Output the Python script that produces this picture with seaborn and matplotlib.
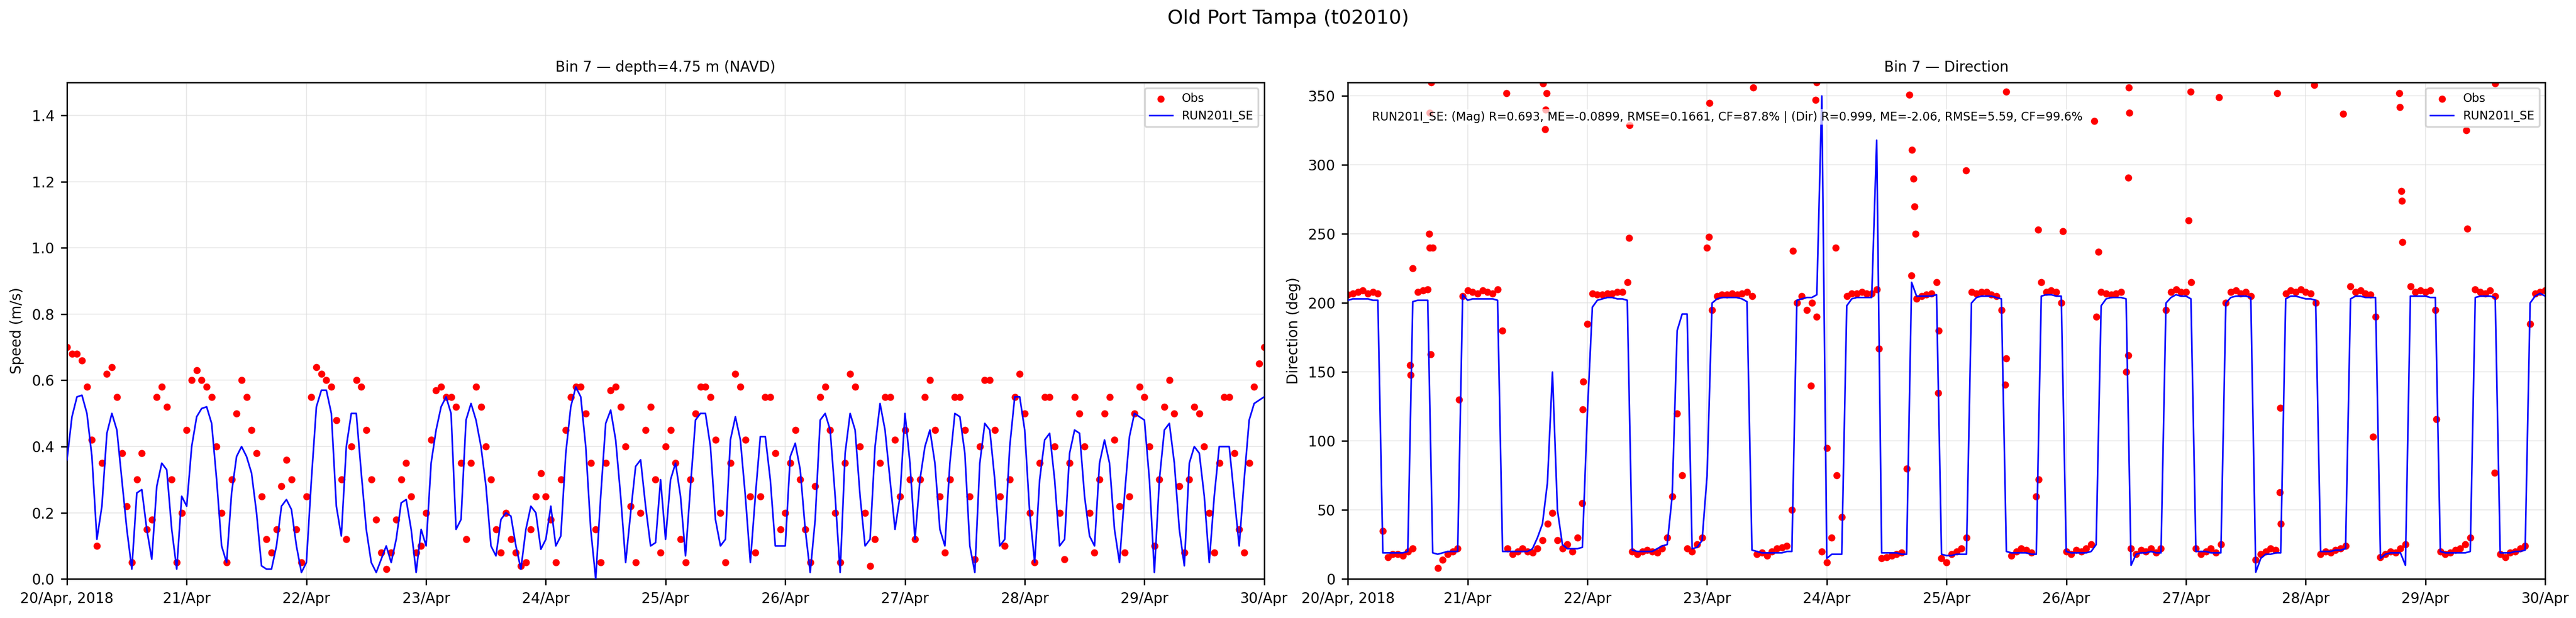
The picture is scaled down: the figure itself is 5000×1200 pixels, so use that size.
import numpy as np
import pandas as pd
import matplotlib
matplotlib.use("Agg")
import matplotlib.pyplot as plt
import seaborn as sns

# hourly values, 20 Apr 00:00 -> 30 Apr 00:00 (241 samples)
speed_obs = [
    0.70, 0.68, 0.68, 0.66, 0.58, 0.42, 0.10, 0.35, 0.62, 0.64, 0.55, 0.38, 0.22, 0.05, 0.30, 0.38, 0.15, 0.18, 0.55, 0.58, 0.52, 0.30, 0.05, 0.20,
    0.45, 0.60, 0.63, 0.60, 0.58, 0.55, 0.40, 0.20, 0.05, 0.30, 0.50, 0.60, 0.55, 0.45, 0.38, 0.25, 0.12, 0.08, 0.15, 0.28, 0.36, 0.30, 0.15, 0.05,
    0.25, 0.55, 0.64, 0.62, 0.60, 0.58, 0.48, 0.30, 0.12, 0.40, 0.60, 0.58, 0.45, 0.30, 0.18, 0.08, 0.03, 0.08, 0.18, 0.30, 0.35, 0.25, 0.08, 0.10,
    0.20, 0.42, 0.57, 0.58, 0.55, 0.55, 0.52, 0.35, 0.12, 0.35, 0.58, 0.52, 0.40, 0.30, 0.15, 0.08, 0.20, 0.12, 0.08, 0.04, 0.05, 0.15, 0.25, 0.32,
    0.25, 0.18, 0.05, 0.30, 0.45, 0.55, 0.58, 0.58, 0.50, 0.35, 0.15, 0.05, 0.35, 0.57, 0.58, 0.52, 0.40, 0.22, 0.05, 0.20, 0.45, 0.52, 0.30, 0.08,
    0.40, 0.45, 0.35, 0.12, 0.05, 0.30, 0.50, 0.58, 0.58, 0.55, 0.42, 0.20, 0.05, 0.35, 0.62, 0.58, 0.42, 0.25, 0.08, 0.25, 0.55, 0.55, 0.38, 0.15,
    0.20, 0.35, 0.45, 0.30, 0.15, 0.05, 0.28, 0.55, 0.58, 0.45, 0.20, 0.05, 0.35, 0.62, 0.58, 0.40, 0.20, 0.04, 0.12, 0.35, 0.55, 0.55, 0.42, 0.25,
    0.45, 0.30, 0.12, 0.30, 0.55, 0.60, 0.45, 0.25, 0.08, 0.30, 0.55, 0.55, 0.45, 0.25, 0.06, 0.40, 0.60, 0.60, 0.45, 0.25, 0.10, 0.30, 0.55, 0.62,
    0.50, 0.20, 0.05, 0.35, 0.55, 0.55, 0.40, 0.20, 0.06, 0.35, 0.55, 0.50, 0.40, 0.20, 0.08, 0.30, 0.50, 0.55, 0.42, 0.22, 0.08, 0.25, 0.50, 0.58,
    0.55, 0.40, 0.10, 0.30, 0.52, 0.60, 0.50, 0.28, 0.08, 0.30, 0.52, 0.50, 0.40, 0.20, 0.08, 0.35, 0.55, 0.55, 0.38, 0.15, 0.08, 0.35, 0.58, 0.65,
    0.70,
]
speed_mod = [
    0.36, 0.49, 0.55, 0.555, 0.50, 0.37, 0.12, 0.22, 0.44, 0.50, 0.45, 0.30, 0.15, 0.03, 0.26, 0.27, 0.15, 0.06, 0.28, 0.35, 0.33, 0.15, 0.03, 0.25,
    0.22, 0.40, 0.49, 0.515, 0.52, 0.47, 0.30, 0.10, 0.05, 0.26, 0.37, 0.40, 0.37, 0.32, 0.20, 0.04, 0.03, 0.03, 0.10, 0.22, 0.24, 0.21, 0.10, 0.02,
    0.05, 0.30, 0.52, 0.57, 0.57, 0.50, 0.22, 0.13, 0.40, 0.50, 0.50, 0.32, 0.15, 0.05, 0.02, 0.06, 0.10, 0.05, 0.12, 0.23, 0.24, 0.15, 0.02, 0.15,
    0.10, 0.35, 0.45, 0.52, 0.55, 0.50, 0.15, 0.18, 0.48, 0.53, 0.48, 0.40, 0.28, 0.10, 0.07, 0.18, 0.20, 0.19, 0.10, 0.03, 0.15, 0.22, 0.20, 0.09,
    0.12, 0.22, 0.10, 0.13, 0.38, 0.52, 0.58, 0.55, 0.40, 0.15, 0.00, 0.25, 0.47, 0.51, 0.42, 0.25, 0.05, 0.20, 0.34, 0.36, 0.22, 0.10, 0.11, 0.30,
    0.12, 0.30, 0.35, 0.25, 0.07, 0.28, 0.48, 0.50, 0.50, 0.40, 0.18, 0.10, 0.12, 0.42, 0.49, 0.42, 0.25, 0.05, 0.25, 0.43, 0.43, 0.30, 0.10, 0.10,
    0.10, 0.37, 0.41, 0.33, 0.15, 0.02, 0.18, 0.48, 0.50, 0.45, 0.25, 0.02, 0.38, 0.50, 0.45, 0.25, 0.10, 0.12, 0.40, 0.53, 0.45, 0.30, 0.15, 0.25,
    0.50, 0.35, 0.12, 0.30, 0.40, 0.45, 0.35, 0.15, 0.10, 0.35, 0.50, 0.49, 0.38, 0.10, 0.02, 0.35, 0.47, 0.45, 0.30, 0.10, 0.12, 0.40, 0.55, 0.55,
    0.45, 0.20, 0.05, 0.30, 0.42, 0.44, 0.30, 0.10, 0.12, 0.38, 0.45, 0.44, 0.25, 0.13, 0.10, 0.35, 0.42, 0.35, 0.15, 0.05, 0.25, 0.43, 0.50, 0.49,
    0.48, 0.30, 0.02, 0.30, 0.45, 0.47, 0.35, 0.15, 0.04, 0.35, 0.40, 0.38, 0.25, 0.05, 0.25, 0.40, 0.40, 0.40, 0.25, 0.10, 0.30, 0.48, 0.53, 0.54,
    0.55,
]
dir_obs = [
    206, 207, 208, 209, 207, 208, 207, 35, 16, 18, 18, 17, 20, 22, 208, 209, 210, 240, 8, 14, 18, 20, 22, 205,
    209, 208, 207, 209, 208, 207, 210, 180, 22, 18, 20, 22, 20, 19, 22, 28, 40, 48, 28, 22, 25, 20, 30, 55,
    185, 207, 206, 206, 207, 207, 208, 208, 215, 20, 18, 20, 21, 20, 19, 22, 30, 60, 120, 75, 22, 20, 25, 30,
    240, 195, 205, 206, 206, 207, 206, 207, 208, 205, 18, 19, 17, 20, 22, 23, 24, 50, 200, 205, 195, 200, 190, 20,
    12, 30, 75, 45, 205, 207, 207, 208, 207, 207, 210, 15, 16, 17, 18, 19, 80, 220, 203, 205, 206, 207, 215, 15,
    12, 18, 20, 22, 30, 208, 207, 208, 208, 206, 205, 195, 160, 17, 20, 22, 21, 19, 60, 215, 208, 209, 208, 200,
    20, 18, 21, 20, 22, 25, 190, 208, 207, 206, 207, 208, 150, 22, 18, 21, 20, 22, 19, 22, 195, 208, 210, 208,
    208, 215, 22, 18, 20, 22, 19, 25, 200, 208, 209, 207, 208, 205, 14, 18, 20, 22, 21, 40, 207, 209, 208, 210,
    208, 207, 200, 18, 20, 19, 21, 22, 24, 212, 208, 209, 207, 206, 190, 16, 18, 20, 19, 22, 25, 212, 208, 209,
    208, 209, 195, 20, 18, 19, 21, 22, 25, 30, 210, 208, 207, 209, 205, 18, 16, 19, 20, 22, 24, 185, 207, 208,
    209,
]
dir_mod = [
    202, 203, 203, 203, 203, 202, 202, 19, 19, 19, 19, 19, 20, 201, 202, 202, 202, 19, 18, 19, 20, 20, 20, 206,
    202, 203, 203, 203, 203, 203, 202, 20, 20, 20, 20, 20, 20, 22, 30, 40, 70, 150, 50, 25, 22, 22, 22, 23,
    120, 197, 202, 203, 204, 204, 203, 203, 202, 21, 20, 20, 20, 20, 22, 24, 25, 60, 180, 192, 192, 22, 23, 28,
    75, 200, 203, 204, 204, 204, 204, 203, 201, 21, 20, 19, 19, 19, 19, 19, 20, 20, 202, 203, 204, 204, 206, 350,
    15, 18, 18, 18, 198, 203, 204, 204, 204, 204, 318, 19, 19, 19, 19, 18, 18, 215, 205, 205, 205, 205, 206, 18,
    17, 17, 18, 18, 18, 200, 204, 205, 205, 205, 204, 203, 20, 19, 19, 19, 19, 18, 18, 205, 206, 206, 205, 205,
    20, 19, 19, 19, 19, 20, 25, 198, 203, 204, 204, 204, 203, 10, 18, 19, 19, 20, 19, 19, 200, 204, 206, 205,
    205, 203, 20, 20, 20, 19, 19, 19, 200, 204, 205, 205, 205, 204, 5, 15, 18, 18, 19, 19, 203, 205, 205, 204,
    203, 203, 202, 20, 20, 20, 21, 21, 22, 203, 205, 205, 204, 204, 204, 15, 18, 19, 19, 19, 10, 205, 205, 205,
    205, 204, 204, 20, 19, 19, 19, 19, 19, 20, 204, 205, 205, 205, 204, 19, 19, 19, 20, 20, 21, 200, 205, 207,
    205,
]
# scattered direction readings away from the two flow states
dir_out_hours = [16.7, 16.4, 16.3, 16.35, 16.6, 12.5, 12.6, 13.0, 22.3, 31.8, 39.1, 39.5, 39.8, 39.6, 56.4, 56.5,
                 47.1, 47.2, 72.4, 72.5, 81.2, 89.2, 92.8, 94.0, 93.8, 97.8, 96.0, 112.5, 113.1, 113.4, 113.6,
                 113.8, 106.5, 118.3, 118.4, 123.9, 132.0, 138.4, 143.3, 150.5, 149.6, 156.5, 156.6, 156.4,
                 156.45, 168.5, 168.9, 174.6, 186.3, 193.7, 199.5, 210.8, 210.9, 211.2, 211.3, 211.4, 224.2,
                 224.4, 230.0, 205.5, 186.8, 186.9, 131.8, 138.5, 218.2, 229.9]
dir_out_vals = [360, 338, 250, 240, 163, 155, 148, 225, 130, 352, 359, 326, 352, 340, 247, 329,
                123, 143, 248, 345, 356, 238, 140, 360, 347, 240, 95, 351, 311, 290, 270,
                250, 167, 135, 180, 296, 353, 253, 252, 237, 332, 356, 338, 291,
                162, 260, 353, 349, 352, 358, 337, 352, 342, 281, 274, 244, 325,
                254, 359, 103, 63, 124, 141, 72, 116, 77]
day_labels = ["20/Apr, 2018", "21/Apr", "22/Apr", "23/Apr", "24/Apr", "25/Apr",
              "26/Apr", "27/Apr", "28/Apr", "29/Apr", "30/Apr"]
stats_text = ("RUN201I_SE: (Mag) R=0.693, ME=-0.0899, RMSE=0.1661, CF=87.8% | "
              "(Dir) R=0.999, ME=-2.06, RMSE=5.59, CF=99.6%")

t0 = pd.Timestamp("2018-04-20")
times = pd.date_range(t0, periods=len(speed_obs), freq="h")
df = pd.DataFrame({"time": times, "speed_obs": speed_obs, "speed_mod": speed_mod,
                   "dir_obs": dir_obs, "dir_mod": dir_mod})
out = pd.DataFrame({"time": t0 + pd.to_timedelta(dir_out_hours, unit="h"), "dir": dir_out_vals})
ticks = pd.date_range(t0, periods=len(day_labels), freq="D")

fig, axes = plt.subplots(1, 2, figsize=(20, 4.8), dpi=250)
fig.subplots_adjust(left=0.026, right=0.988, bottom=0.063, top=0.867, wspace=0.07)
fig.suptitle("Old Port Tampa (t02010)", fontsize=11, y=0.985)

ax = axes[0]
sns.scatterplot(data=df, x="time", y="speed_obs", color="red", s=16, linewidth=0, ax=ax, label="Obs", zorder=2)
sns.lineplot(data=df, x="time", y="speed_mod", color="blue", lw=0.9, ax=ax, label="RUN201I_SE", zorder=3)
ax.set_ylim(0, 1.5)
ax.set_ylabel("Speed (m/s)", fontsize=8)
ax.set_title("Bin 7 \u2014 depth=4.75 m (NAVD)", fontsize=8)

ax = axes[1]
sns.scatterplot(data=df, x="time", y="dir_obs", color="red", s=16, linewidth=0, ax=ax, label="Obs", zorder=2)
sns.scatterplot(data=out, x="time", y="dir", color="red", s=16, linewidth=0, ax=ax, zorder=2)
sns.lineplot(data=df, x="time", y="dir_mod", color="blue", lw=0.9, ax=ax, label="RUN201I_SE", zorder=3)
ax.set_ylim(0, 360)
ax.set_ylabel("Direction (deg)", fontsize=8)
ax.set_title("Bin 7 \u2014 Direction", fontsize=8)
ax.text(0.02, 0.93, stats_text, transform=ax.transAxes, fontsize=6.5, va="center",
        bbox=dict(facecolor="white", edgecolor="none", alpha=0.7, pad=1), zorder=4)

for ax in axes:
    ax.set_xlim(ticks[0], ticks[-1])
    ax.set_xticks(ticks)
    ax.set_xticklabels(day_labels)
    ax.set_xlabel("")
    ax.tick_params(labelsize=8)
    ax.grid(True, color="#dddddd", alpha=0.6, lw=0.6)
    ax.legend(loc="upper right", fontsize=6.5)

fig.savefig("out.png", dpi=250)
